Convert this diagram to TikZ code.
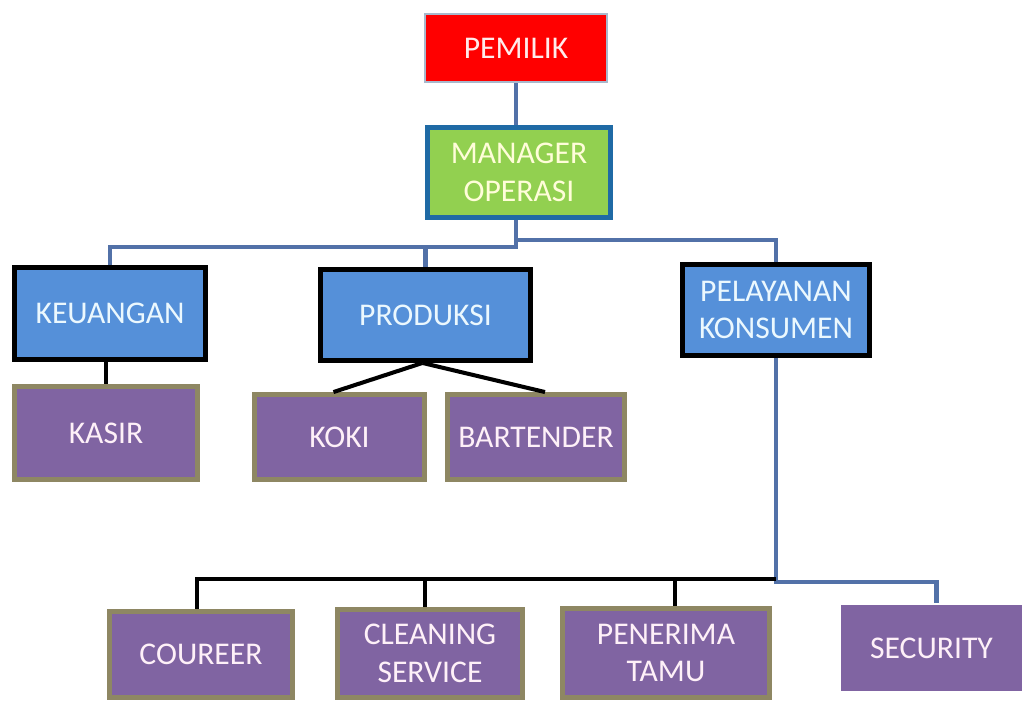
\documentclass[tikz,border=0pt]{standalone}
\usepackage{fontspec}
\setmainfont{Carlito}
\definecolor{merah}{HTML}{FF0000}
\definecolor{hijau}{HTML}{92D050}
\definecolor{biru}{HTML}{5590D9}
\definecolor{ungu}{HTML}{8064A2}
\definecolor{garisbiru}{HTML}{5271A8}
\definecolor{tepihijau}{HTML}{1F6AA5}
\definecolor{tepiungu}{HTML}{8E8763}
\definecolor{tepimerah}{HTML}{A9B8CC}
\begin{document}
\begin{tikzpicture}[x=0.02cm, y=-0.02cm,
  kotak/.style={draw, align=center, inner sep=0pt,
    font=\fontsize{18}{21.5}\selectfont},
  atas/.style={kotak, fill=merah, draw=tepimerah, line width=1.2pt, text=red!8},
  manajer/.style={kotak, fill=hijau, draw=tepihijau, line width=2.8pt, text=yellow!15},
  bagian/.style={kotak, fill=biru, draw=black, line width=2.8pt, text=cyan!8},
  staf/.style={kotak, fill=ungu, draw=tepiungu, line width=2.8pt, text=magenta!6},
  biruline/.style={draw=garisbiru, line width=2.8pt},
  hitamline/.style={draw=black, line width=2.3pt}]
  \useasboundingbox (0,0) rectangle (1022,702);

  % Pimpinan
  \node[atas, minimum width=3.64cm, minimum height=1.36cm] (pemilik) at (516,48) {PEMILIK};
  \node[manajer, minimum width=3.66cm, minimum height=1.8cm] (manajer) at (519,172.5) {MANAGER\\OPERASI};

  % Bagian
  \node[bagian, minimum width=3.82cm, minimum height=1.84cm] (keuangan) at (110,313.5) {KEUANGAN};
  \node[bagian, minimum width=4.2cm, minimum height=1.82cm] (produksi) at (425.5,315) {PRODUKSI};
  \node[bagian, minimum width=3.74cm, minimum height=1.82cm] (pelayanan) at (776,310) {PELAYANAN\\KONSUMEN};

  % Staf
  \node[staf, minimum width=3.66cm, minimum height=1.86cm] (kasir) at (106,433) {KASIR};
  \node[staf, minimum width=3.4cm, minimum height=1.7cm] (koki) at (339.5,437) {KOKI};
  \node[staf, minimum width=3.54cm, minimum height=1.7cm] (bartender) at (536,437) {BARTENDER};
  \node[staf, minimum width=3.66cm, minimum height=1.72cm] (coureer) at (201,654.5) {COUREER};
  \node[staf, minimum width=3.7cm, minimum height=1.76cm] (cleaning) at (430,653.5) {CLEANING\\SERVICE};
  \node[staf, minimum width=4.14cm, minimum height=1.78cm] (penerima) at (666,653) {PENERIMA\\TAMU};
  \node[staf, draw=none, minimum width=3.62cm, minimum height=1.72cm] (security) at (931.5,648) {SECURITY};

  % Titik cabang
  \coordinate (cabkiri) at (516,247);
  \coordinate (cabkanan) at (516,240);
  \coordinate (cabbawah) at (776,582);
  \coordinate (cabhitam) at (776,579);

  % Garis biru
  \draw[biruline] (pemilik.south) -- (pemilik.south |- manajer.north);
  \draw[biruline] (pemilik.south |- manajer.south) -- (cabkiri) -| (keuangan.north);
  \draw[biruline] (cabkanan) -| (pelayanan.north);
  \draw[biruline] (produksi.north |- cabkiri) -- (produksi.north);
  \draw[biruline] (pelayanan.south) -- (cabbawah) -| ([xshift=0.1cm]security.north);

  % Garis hitam
  \draw[hitamline] (kasir.north |- keuangan.south) -- (kasir.north);
  \draw[hitamline] ([xshift=-0.06cm]produksi.south) -- ([xshift=-0.12cm]koki.north);
  \draw[hitamline] ([xshift=-0.06cm]produksi.south) -- ([xshift=0.18cm]bartender.north);
  \draw[hitamline] (cabhitam) -| ([xshift=-0.08cm]coureer.north);
  \draw[hitamline] ([xshift=-0.1cm]cleaning.north |- cabhitam) -- ([xshift=-0.1cm]cleaning.north);
  \draw[hitamline] ([xshift=0.18cm]penerima.north |- cabhitam) -- ([xshift=0.18cm]penerima.north);
\end{tikzpicture}
\end{document}
